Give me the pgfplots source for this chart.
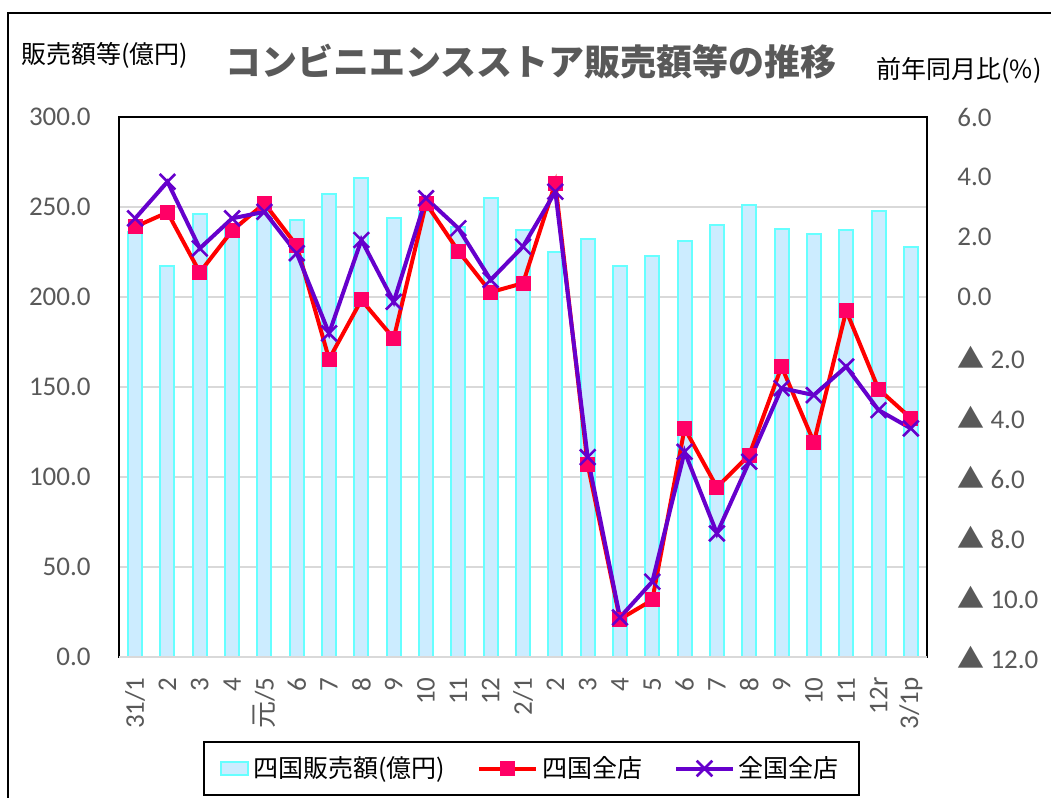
\documentclass[border=0pt]{standalone}
\usepackage{pgfplots}
\pgfplotsset{compat=1.18}
\usepackage{fontspec}
\setmainfont{Carlito}
\newfontfamily\jp{Noto Sans CJK JP}
\definecolor{tickgray}{HTML}{595959}
\definecolor{barfill}{HTML}{CCECFF}
\definecolor{baredge}{HTML}{66FFFF}
\definecolor{redline}{HTML}{FF0000}
\definecolor{redmark}{HTML}{FF0066}
\definecolor{purp}{HTML}{6600CC}
\definecolor{gridgray}{HTML}{D9D9D9}
\pgfplotsset{
  widelinelegend/.style={legend image code/.code={\draw[mark repeat=2,mark phase=2,##1] plot coordinates {(0cm,0cm) (0.5cm,0cm) (1cm,0cm)};}},
  barlegend/.style={legend image code/.code={\draw[fill=barfill, draw=baredge, line width=1pt] (0cm,-0.12cm) rectangle (0.48cm,0.12cm);}},
}

\pgfplotstableread{
x bar shikoku zenkoku
0 236 2.34 2.62
1 217 2.82 3.84
2 246 0.82 1.62
3 240 2.21 2.62
4 247 3.12 2.84
5 243 1.71 1.46
6 257 -2.07 -1.21
7 266 -0.10 1.90
8 244 -1.38 -0.16
9 248 3.12 3.29
10 239 1.53 2.29
11 255 0.16 0.57
12 237 0.46 1.68
13 225 3.79 3.51
14 232 -5.58 -5.34
15 217 -10.74 -10.68
16 223 -10.10 -9.49
17 231 -4.38 -5.16
18 240 -6.34 -7.88
19 251 -5.27 -5.49
20 238 -2.32 -3.04
21 235 -4.84 -3.27
22 237 -0.46 -2.32
23 248 -3.07 -3.77
24 228 -4.04 -4.38
}\data

\begin{document}
\begin{tikzpicture}
\useasboundingbox (0,0) rectangle (525.5pt,399pt);
% outer frame (top and left)
\draw[line width=1pt] (4pt,0pt) -- (4pt,392.5pt) -- (525.5pt,392.5pt);

\begin{axis}[
  at={(59.5pt,70.5pt)}, anchor=south west,
  scale only axis, width=404pt, height=270pt,
  xmin=-0.5, xmax=24.5, ymin=0, ymax=300,
  ytick={0,50,...,300},
  yticklabel={\pgfmathprintnumber[fixed,fixed zerofill,precision=1]{\tick}},
  /pgf/number format/assume math mode=true,
  xtick={0,...,24},
  xticklabels={31/1,2,3,4,{\jp 元}/5,6,7,8,9,10,11,12,2/1,2,3,4,5,6,7,8,9,10,11,12r,3/1p},
  major tick length=0pt,
  ymajorgrids, grid style={gridgray, line width=1pt},
  axis line style={black, line width=1.4pt},
  tick label style={font=\fontsize{13.5}{14}\selectfont, text=tickgray},
  yticklabel style={anchor=east, inner sep=0pt, xshift=-14pt},
  xticklabel style={rotate=90, anchor=east, inner sep=0pt, xshift=-10pt},
  clip=false,
]
\addplot[ybar, bar width=7pt, fill=barfill, draw=baredge, line width=1pt] table[x=x, y=bar] {\data};
\draw[gridgray, line width=1.4pt] (rel axis cs:0,0) -- (rel axis cs:1,0);
\end{axis}

\begin{axis}[
  at={(59.5pt,70.5pt)}, anchor=south west,
  scale only axis, width=404pt, height=270pt,
  xmin=-0.5, xmax=24.5, ymin=-12, ymax=6,
  axis x line=none, axis y line*=right,
  y axis line style={draw=none},
  ytick={-12,-10,...,6},
  yticklabels={{\jp ▲} 12.0,{\jp ▲} 10.0,{\jp ▲} 8.0,{\jp ▲} 6.0,{\jp ▲} 4.0,{\jp ▲} 2.0,0.0,2.0,4.0,6.0},
  major tick length=0pt,
  tick label style={font=\fontsize{13.5}{14}\selectfont, text=tickgray},
  yticklabel style={anchor=west, inner sep=0pt, xshift=15pt},
  clip=false,
  legend columns=3,
  legend style={at={(0.5105,-0.2065)}, anchor=center, draw=black, line width=1pt,
    font=\jp\fontsize{12.5}{14}\selectfont, inner xsep=8pt, inner ysep=5pt,
    /tikz/every even column/.append style={column sep=14pt}},
]
\addlegendimage{barlegend}
\addlegendentry{四国販売額(億円)}
\addplot[redline, line width=2pt, mark=square*, mark size=3.5pt, mark options={fill=redmark, draw=redmark, line width=0pt}, widelinelegend]
  table[x=x, y=shikoku] {\data};
\addlegendentry{四国全店}
\addplot[purp, line width=2pt, mark=x, mark size=5.5pt, mark options={line width=1.3pt}, widelinelegend]
  table[x=x, y=zenkoku] {\data};
\addlegendentry{全国全店}
\end{axis}

\node[font=\jp\bfseries\fontsize{18}{20}\selectfont, text=tickgray] at (265.5pt,368pt) {コンビニエンスストア販売額等の推移};
\node[font=\jp\fontsize{12.5}{14}\selectfont] at (52.5pt,371.5pt) {販売額等(億円)};
\node[font=\jp\fontsize{12.5}{14}\selectfont] at (479.5pt,364pt) {前年同月比(\%)};
\end{tikzpicture}
\end{document}
